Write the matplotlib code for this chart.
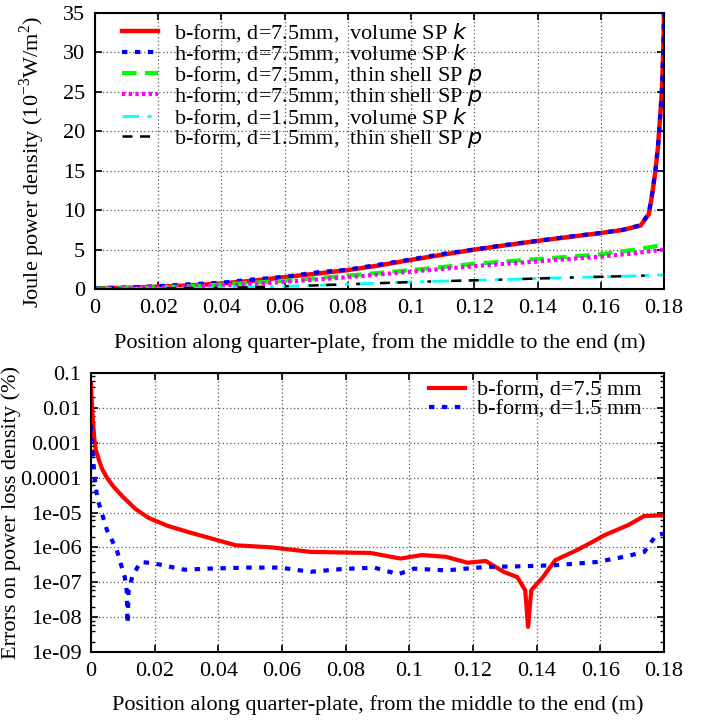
import numpy as np
import matplotlib
matplotlib.use('Agg')
import matplotlib.pyplot as plt
from matplotlib.ticker import FixedLocator, LogLocator, NullFormatter

plt.rcParams['font.family'] = ['Liberation Serif', 'DejaVu Serif']
plt.rcParams['mathtext.fontset'] = 'custom'
plt.rcParams['mathtext.rm'] = 'Liberation Serif'
plt.rcParams['mathtext.it'] = 'DejaVu Sans:italic'

# ---- top panel: Joule power density (10^-3 W/m^2) ----
x_vol = [0, 0.01, 0.02, 0.03, 0.04, 0.05, 0.06, 0.07, 0.08, 0.09, 0.1, 0.11,
         0.12, 0.13, 0.14, 0.15, 0.16, 0.167, 0.1726, 0.1752, 0.1763, 0.1773,
         0.1781, 0.1787, 0.1793, 0.1796, 0.1799, 0.18]
b_vol_75 = [0.1, 0.15, 0.3, 0.45, 0.7, 1.05, 1.5, 1.95, 2.4, 3.0, 3.7, 4.35,
            5.0, 5.55, 6.1, 6.6, 7.1, 7.5, 8.05, 9.5, 12.1, 15.0,
            18.0, 21.4, 24.8, 28.2, 32.4, 35.5]
h_vol_75 = [0.1, 0.18, 0.35, 0.6, 0.8, 1.2, 1.55, 2.1, 2.45, 3.1, 3.75, 4.45,
            5.0, 5.6, 6.1, 6.65, 7.1, 7.5, 8.1, 9.6, 12.2, 15.1,
            18.1, 21.5, 24.9, 28.3, 32.5, 35.5]

x_shell = [0, 0.01, 0.02, 0.03, 0.04, 0.05, 0.06, 0.07, 0.08, 0.09, 0.1,
           0.11, 0.12, 0.13, 0.14, 0.15, 0.16, 0.17, 0.18]
b_shell_75 = [0.05, 0.1, 0.2, 0.35, 0.55, 0.8, 1.05, 1.35, 1.7, 2.05, 2.4,
              2.8, 3.2, 3.5, 3.8, 4.1, 4.4, 4.95, 5.6]
h_shell_75 = [0.03, 0.07, 0.15, 0.28, 0.45, 0.65, 0.9, 1.2, 1.5, 1.85, 2.2,
              2.55, 2.9, 3.2, 3.5, 3.8, 4.1, 4.5, 5.0]
b_vol_15 = [0.0, 0.02, 0.05, 0.1, 0.15, 0.25, 0.35, 0.47, 0.6, 0.75, 0.9,
            1.0, 1.1, 1.2, 1.35, 1.45, 1.55, 1.65, 1.8]
b_shell_15 = [0.0, 0.02, 0.05, 0.1, 0.15, 0.24, 0.34, 0.46, 0.6, 0.74, 0.88,
              1.0, 1.1, 1.2, 1.33, 1.45, 1.55, 1.65, 1.78]

# ---- bottom panel: errors on power loss density (%) ----
x_err75 = [0, 0.0003, 0.0006, 0.001, 0.0015, 0.0025, 0.0035, 0.005, 0.007,
           0.01, 0.014, 0.018, 0.024, 0.0305,
           0.0455, 0.0567, 0.069, 0.0878, 0.0972, 0.104, 0.1115, 0.1183,
           0.124, 0.1296, 0.1339, 0.1364, 0.1373, 0.1383, 0.142, 0.1458,
           0.1526, 0.1576, 0.1613, 0.1688, 0.1738, 0.18]
log_err75 = [-1.3, -1.9, -2.35, -2.85, -3.2, -3.5, -3.75, -4.0, -4.25,
             -4.55, -4.9, -5.15, -5.38, -5.56,
             -5.94, -6.0, -6.13, -6.16, -6.32, -6.22, -6.27, -6.44,
             -6.39, -6.7, -6.85, -7.23, -8.28, -7.23, -6.85, -6.37,
             -6.08, -5.84, -5.65, -5.36, -5.1, -5.08]
x_err15 = [0, 0.0005, 0.001, 0.002, 0.005, 0.0081, 0.0106, 0.0112, 0.0115,
           0.0118, 0.0131, 0.0156, 0.0193, 0.0293, 0.0367, 0.0492, 0.0592,
           0.069, 0.079, 0.089, 0.0965, 0.1015, 0.1115, 0.124, 0.1364,
           0.146, 0.1588, 0.1675, 0.1738, 0.1775, 0.18]
log_err15 = [-2.5, -3.2, -3.9, -4.6, -5.5, -6.08, -6.85, -7.23, -8.19,
             -7.23, -6.8, -6.42, -6.45, -6.64, -6.61, -6.58, -6.58,
             -6.7, -6.62, -6.58, -6.77, -6.61, -6.66, -6.56, -6.54,
             -6.51, -6.42, -6.27, -6.13, -5.65, -5.6]

x_ticks = [0, 0.02, 0.04, 0.06, 0.08, 0.1, 0.12, 0.14, 0.16, 0.18]
x_ticklabels = ['0', '0.02', '0.04', '0.06', '0.08', '0.1', '0.12', '0.14', '0.16', '0.18']
y_top_ticks = [0, 5, 10, 15, 20, 25, 30, 35]
y_log_ticks = [1e-9, 1e-8, 1e-7, 1e-6, 1e-5, 1e-4, 1e-3, 1e-2, 1e-1]
y_log_labels = ['1e-09', '1e-08', '1e-07', '1e-06', '1e-05', '0.0001', '0.001', '0.01', '0.1']

xlabel = 'Position along quarter-plate, from the middle to the end (m)'
fs = 16

fig = plt.figure(figsize=(7.16, 7.24), dpi=100)
ax1 = fig.add_axes([95/716, 1-289/724, 569/716, 276/724])
ax2 = fig.add_axes([91/716, 1-652/724, 573/716, 279/724])


def style_axes(ax):
    for s in ax.spines.values():
        s.set_linewidth(1.5)
    ax.tick_params(which='major', direction='in', length=5, width=1.2,
                   top=True, right=True, labelsize=fs, pad=7)
    ax.tick_params(which='minor', direction='in', length=3, width=1,
                   top=True, right=True)
    ax.grid(True, which='major', linestyle=(0, (1, 2)), color='0.35', linewidth=0.9)
    ax.set_xlim(0, 0.18)
    ax.set_xticks(x_ticks)
    ax.set_xticklabels(x_ticklabels)


# top plot
ax1.plot(x_vol, b_vol_75, color='#ff0000', lw=3.2, label=r'b-form, d=7.5mm,  volume SP $k$')
ax1.plot(x_vol, h_vol_75, color='#0000ff', lw=3, dashes=(1.3, 1.8),
         label=r'h-form, d=7.5mm,  volume SP $k$')
ax1.plot(x_shell, b_shell_75, color='#00ff00', lw=3, dashes=(3.5, 2),
         label=r'b-form, d=7.5mm,  thin shell SP $p$')
ax1.plot(x_shell, h_shell_75, color='#ff00ff', lw=3, dashes=(0.8, 0.8),
         label=r'h-form, d=7.5mm,  thin shell SP $p$')
ax1.plot(x_shell, b_vol_15, color='#00ffff', lw=2, dashes=(6, 3, 1.5, 3),
         label=r'b-form, d=1.5mm,  volume SP $k$')
ax1.plot(x_shell, b_shell_15, color='black', lw=1.8, dashes=(4, 3, 4, 8, 1.5, 8),
         label=r'b-form, d=1.5mm,  thin shell SP $p$')
style_axes(ax1)
ax1.set_ylim(0, 35)
ax1.set_yticks(y_top_ticks)
ax1.set_ylabel(r'Joule power density ($10^{-3}$W/m$^{2}$)', fontsize=fs)
ax1.yaxis.set_label_coords(-0.085, 0.46)
ax1.set_xlabel(xlabel, fontsize=fs)
ax1.xaxis.set_label_coords(0.5, -0.16)
leg1 = ax1.legend(loc='upper left', bbox_to_anchor=(0.047, 0.97), fontsize=fs,
                  frameon=False, handlelength=1.65, handletextpad=0.7,
                  labelspacing=-0.08, borderpad=0, borderaxespad=0)

# bottom plot
ax2.plot(x_err75, np.power(10.0, log_err75), color='#ff0000', lw=3,
         label='b-form, d=7.5 mm')
ax2.plot(x_err15, np.power(10.0, log_err15), color='#0000ff', lw=3,
         dashes=(1.3, 1.8), label='b-form, d=1.5 mm')
ax2.set_yscale('log')
style_axes(ax2)
ax2.set_ylim(1e-9, 0.1)
ax2.yaxis.set_major_locator(FixedLocator(y_log_ticks))
ax2.set_yticklabels(y_log_labels)
ax2.yaxis.set_minor_locator(LogLocator(base=10, subs=(2, 4, 6, 8), numticks=20))
ax2.yaxis.set_minor_formatter(NullFormatter())
ax2.set_ylabel('Errors on power loss density (%)', fontsize=fs)
ax2.yaxis.set_label_coords(-0.122, 0.5)
ax2.set_xlabel(xlabel, fontsize=fs)
ax2.xaxis.set_label_coords(0.5, -0.155)
leg2 = ax2.legend(loc='upper right', bbox_to_anchor=(0.96, 0.975), fontsize=fs,
                  frameon=False, handlelength=1.65, handletextpad=0.5,
                  labelspacing=-0.08, borderpad=0, borderaxespad=0)

plt.savefig('out.png', dpi=100)
